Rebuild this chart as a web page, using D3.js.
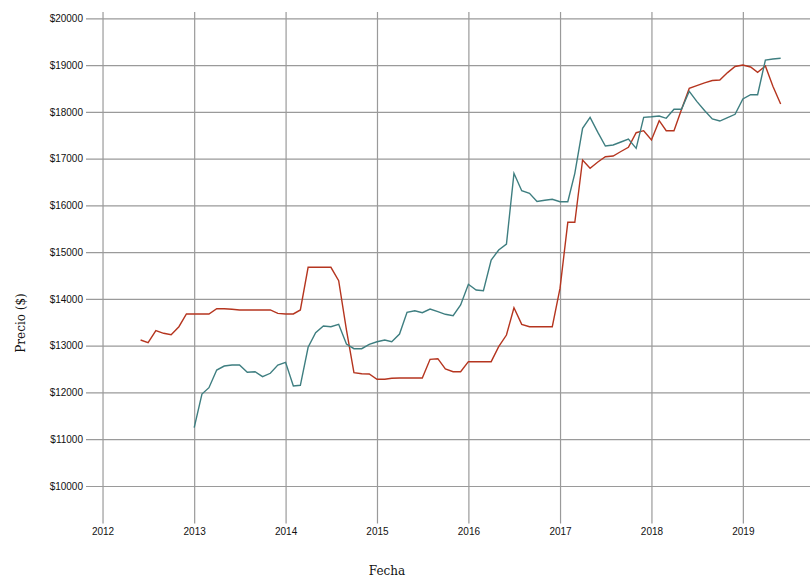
<!DOCTYPE html>
<html>
<head>
<meta charset="utf-8">
<script src="https://cdn.jsdelivr.net/npm/d3@7"></script>
<style>
  html, body { margin: 0; padding: 0; background: #fff; }
  svg { display: block; }
  .tick text { font-family: "Liberation Sans", Arial, sans-serif; font-size: 10px; fill: #111; }
  .tick line { stroke: #9a9a9a; stroke-width: 1.2; }
  .axis-title { font-family: "DejaVu Serif", serif; font-size: 12px; fill: #111; }
</style>
</head>
<body>
<svg id="chart" width="810" height="577"></svg>
<script>
// ---- data ----
const months = [
  "2012-06","2012-07","2012-08","2012-09","2012-10","2012-11","2012-12",
  "2013-01","2013-02","2013-03","2013-04","2013-05","2013-06","2013-07","2013-08","2013-09","2013-10","2013-11","2013-12",
  "2014-01","2014-02","2014-03","2014-04","2014-05","2014-06","2014-07","2014-08","2014-09","2014-10","2014-11","2014-12",
  "2015-01","2015-02","2015-03","2015-04","2015-05","2015-06","2015-07","2015-08","2015-09","2015-10","2015-11","2015-12",
  "2016-01","2016-02","2016-03","2016-04","2016-05","2016-06","2016-07","2016-08","2016-09","2016-10","2016-11","2016-12",
  "2017-01","2017-02","2017-03","2017-04","2017-05","2017-06","2017-07","2017-08","2017-09","2017-10","2017-11","2017-12",
  "2018-01","2018-02","2018-03","2018-04","2018-05","2018-06","2018-07","2018-08","2018-09","2018-10","2018-11","2018-12",
  "2019-01","2019-02","2019-03","2019-04","2019-05","2019-06"
];

// red series (starts 2012-06)
const serieRoja = [
  13122,13064,13321,13265,13235,13406,13678,
  13678,13678,13678,13791,13791,13778,13764,13764,13764,13764,13764,13690,
  13678,13678,13764,14676,14676,14676,14676,14390,13340,12422,12400,12395,
  12282,12282,12303,12310,12310,12310,12310,12709,12722,12502,12444,12444,
  12658,12658,12658,12658,12978,13228,13812,13457,13406,13406,13406,13406,
  14230,15638,15638,16970,16793,16927,17041,17056,17152,17242,17554,17597,
  17398,17811,17597,17597,18050,18503,18560,18620,18670,18680,18839,18970,
  19001,18960,18845,18980,18548,18168
];

// teal series (starts 2013-01; null before)
const serieVerde = [
  null,null,null,null,null,null,null,
  11247,11967,12102,12480,12565,12587,12587,12431,12444,12337,12410,12587,
  12645,12138,12153,12966,13278,13421,13406,13457,13036,12936,12936,13030,
  13085,13122,13085,13250,13714,13748,13705,13784,13727,13671,13641,13870,
  14313,14191,14176,14832,15046,15174,16686,16314,16258,16085,16110,16130,
  16079,16079,16686,17648,17883,17560,17270,17291,17355,17419,17220,17883,
  17895,17911,17862,18054,18054,18440,18223,18029,17850,17804,17877,17947,
  18275,18367,18367,19108,19130,19145
];

const yTickValues = [10000,11000,12000,13000,14000,15000,16000,17000,18000,19000,20000];
const xDomain = ["2011-10-27", "2019-12-31"];
const yDomain = [9198, 20135];
const xTitle = "Fecha";
const yTitle = "Precio ($)";

// ---- chart ----
const svg = d3.select("#chart");
const marginLeft = 86, marginTop = 12, plotW = 748, plotH = 511.5;
const parseMonth = d3.timeParse("%Y-%m");
const parseDay = d3.timeParse("%Y-%m-%d");

const x = d3.scaleTime().domain(xDomain.map(parseDay)).range([0, plotW]);
const y = d3.scaleLinear().domain(yDomain).range([plotH, 0]);

const g = svg.append("g").attr("transform", `translate(${marginLeft},${marginTop})`);

const xAxis = g.append("g")
  .attr("transform", `translate(0,${plotH})`)
  .call(d3.axisBottom(x).ticks(d3.timeYear.every(1)).tickFormat(d3.timeFormat("%Y")).tickSize(-plotH).tickPadding(4));
xAxis.select(".domain").remove();

const yAxis = g.append("g")
  .call(d3.axisLeft(y).tickValues(yTickValues).tickFormat(d => "$" + d).tickSize(-plotW).tickPadding(3));
yAxis.select(".domain").remove();

const dates = months.map(parseMonth);
const line = d3.line()
  .defined(d => d.v != null)
  .x(d => x(d.date))
  .y(d => y(d.v));

const series = [
  { values: serieRoja, color: "#b5351f" },
  { values: serieVerde, color: "#3e7e80" }
];
series.forEach(s => {
  g.append("path")
    .datum(dates.map((date, i) => ({ date, v: s.values[i] })))
    .attr("fill", "none")
    .attr("stroke", s.color)
    .attr("stroke-width", 1.4)
    .attr("d", line);
});

svg.append("text")
  .attr("class", "axis-title")
  .attr("x", 387).attr("y", 575)
  .attr("text-anchor", "middle")
  .text(xTitle);

svg.append("text")
  .attr("class", "axis-title")
  .attr("transform", "translate(25,323) rotate(-90)")
  .attr("text-anchor", "middle")
  .text(yTitle);
</script>
</body>
</html>
